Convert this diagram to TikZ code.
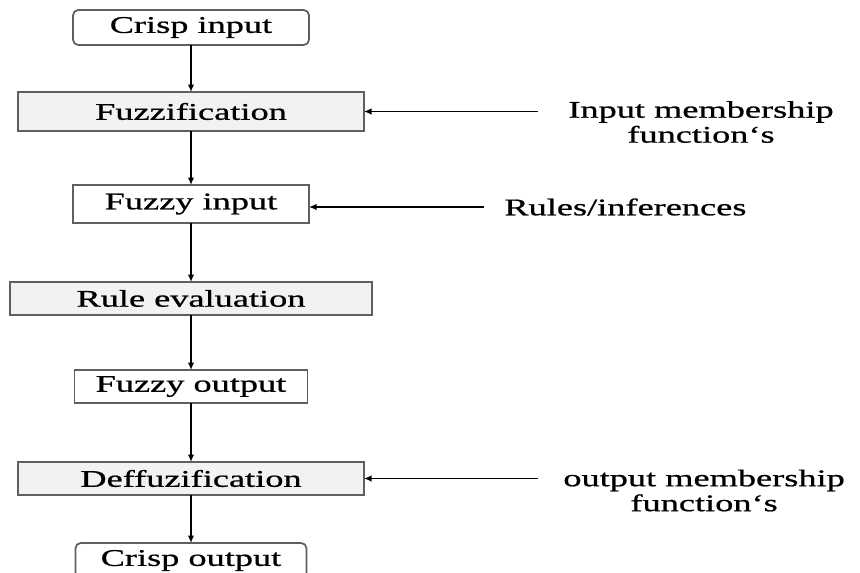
\documentclass[tikz,border=0pt]{standalone}
\usepackage{fontspec}
\setmainfont{Liberation Serif}[FakeStretch=1.52, FakeBold=0.8]
\usepackage{tikz}
\usetikzlibrary{positioning,arrows.meta}
\definecolor{fzgrey}{RGB}{242,242,242}
\definecolor{fzedge}{RGB}{95,95,95}
\tikzset{
  blk/.style={draw=fzedge, line width=1pt, inner sep=0pt, outer sep=0pt,
              align=center, minimum height=0.7cm, font=\fontsize{13.6}{15}\selectfont},
  crisp/.style={blk, rounded corners=3pt, minimum width=4.72cm},
  proc/.style={blk, fill=fzgrey, minimum width=6.92cm},
  fset/.style={blk, fill=white, minimum width=4.72cm},
  flow/.style={-{Latex[length=1.5mm,width=1.3mm]}, line width=0.8pt},
  lbl/.style={inner sep=0pt, align=center, font=\fontsize{13.6}{14.2}\selectfont},
}
\begin{document}
\begin{tikzpicture}
\useasboundingbox (0,0) rectangle (17.2,-11.46);
\node[crisp] (cin) at (3.82,-0.55) {Crisp input};
\node[proc, below=0.94cm of cin, minimum height=0.78cm] (fuz) {Fuzzification};
\node[fset, below=1.08cm of fuz, minimum height=0.76cm] (fin) {Fuzzy input};
\node[proc, below=1.18cm of fin, minimum width=7.24cm, minimum height=0.66cm] (rule) {Rule evaluation};
\node[fset, below=1.1cm of rule, minimum width=4.66cm, minimum height=0.66cm] (fout) {Fuzzy output};
\node[proc, below=1.18cm of fout, minimum height=0.66cm] (def) {Deffuzification};
\node[crisp, below=0.96cm of def, minimum width=4.62cm] (cout) {Crisp output};
\draw[flow] (cin) -- (fuz);
\draw[flow] (fuz) -- (fin);
\draw[flow] (fin) -- (rule);
\draw[flow] (rule) -- (fout);
\draw[flow] (fout) -- (def);
\draw[flow] (def) -- (cout);
% side inputs
\coordinate[right=3.48cm of fuz.east] (imf);
\coordinate[right=3.5cm of fin.east, yshift=-0.06cm] (rinf);
\coordinate[right=3.48cm of def.east] (omf);
\node[lbl, right=0.6cm of imf, yshift=-0.21cm] (imft) {Input membership\\function‘s};
\node[lbl, right=0.4cm of rinf] (rinft) {Rules/inferences};
\node[lbl, right=0.5cm of omf, yshift=-0.24cm] (omft) {output membership\\function‘s};
\draw[flow] (imf) -- (fuz.east);
\draw[flow] (rinf) -- (rinf -| fin.east);
\draw[flow] (omf) -- (def.east);
\end{tikzpicture}
\end{document}
